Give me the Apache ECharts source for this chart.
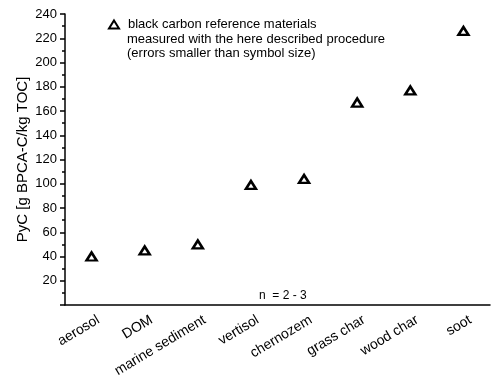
<!DOCTYPE html>
<html>
<head>
<meta charset="utf-8">
<script src="https://cdn.jsdelivr.net/npm/echarts@6/dist/echarts.min.js"></script>
<style>
  html, body { margin: 0; padding: 0; background: #fff; }
  #chart { width: 500px; height: 389px; }
</style>
</head>
<body>
<div id="chart"></div>
<script>
var materials = ['aerosol', 'DOM', 'marine sediment', 'vertisol', 'chernozem', 'grass char', 'wood char', 'soot'];
var pycValues = [40, 45, 50, 99, 104, 167, 177, 226];
var yTicks = [20, 40, 60, 80, 100, 120, 140, 160, 180, 200, 220, 240];

var font = 'Arial, "Liberation Sans", sans-serif';
var myChart = echarts.init(document.getElementById('chart'));

var option = {
    animation: false,
    backgroundColor: '#fff',
    grid: {
        left: 65,
        right: 10,
        top: 14,
        bottom: 84
    },
    legend: {
        left: 108,
        top: 18,
        padding: 0,
        itemWidth: 10,
        itemHeight: 8,
        textStyle: {
            fontFamily: font,
            fontSize: 13,
            color: '#000',
            padding: [0, 0, 0, 4]
        },
        data: ['black carbon reference materials']
    },
    graphic: [
        {
            type: 'text',
            left: 127,
            top: 32,
            style: {
                text: 'measured with the here described procedure\n(errors smaller than symbol size)',
                font: '13px ' + font,
                fill: '#000',
                lineHeight: 14
            }
        },
        {
            type: 'text',
            left: 259,
            top: 290,
            style: {
                text: 'n  = 2 - 3',
                font: '12px ' + font,
                fill: '#000'
            }
        }
    ],
    xAxis: {
        type: 'category',
        data: materials,
        boundaryGap: true,
        axisLine: { lineStyle: { color: '#000', width: 1.5 } },
        axisTick: { alignWithLabel: true, length: 5, lineStyle: { color: '#000', width: 1.5 } },
        axisLabel: {
            rotate: 31,
            interval: 0,
            margin: 18,
            padding: [0, -8, 0, 0],
            fontFamily: font,
            fontSize: 14,
            color: '#000'
        },
        splitLine: { show: false }
    },
    yAxis: {
        type: 'value',
        min: 0,
        max: 240,
        interval: 20,
        name: 'PyC [g BPCA-C/kg TOC]',
        nameLocation: 'middle',
        nameGap: 35,
        nameMoveOverlap: false,
        nameTextStyle: { fontFamily: font, fontSize: 15, color: '#000' },
        axisLine: { show: true, lineStyle: { color: '#000', width: 1.5 } },
        axisTick: { show: true, length: 5, lineStyle: { color: '#000', width: 1.5 } },
        minorTick: { show: true, splitNumber: 2, length: 3, lineStyle: { color: '#000', width: 1.5 } },
        axisLabel: {
            margin: 8,
            fontFamily: font,
            fontSize: 13,
            color: '#000',
            formatter: function (v) {
                return yTicks.indexOf(v) >= 0 ? String(v) : '';
            }
        },
        splitLine: { show: false }
    },
    series: [{
        name: 'black carbon reference materials',
        type: 'scatter',
        symbol: 'triangle',
        symbolSize: [10, 8],
        itemStyle: {
            color: '#fff',
            borderColor: '#000',
            borderWidth: 2.5,
            opacity: 1
        },
        data: pycValues
    }]
};
myChart.setOption(option);
</script>
</body>
</html>
